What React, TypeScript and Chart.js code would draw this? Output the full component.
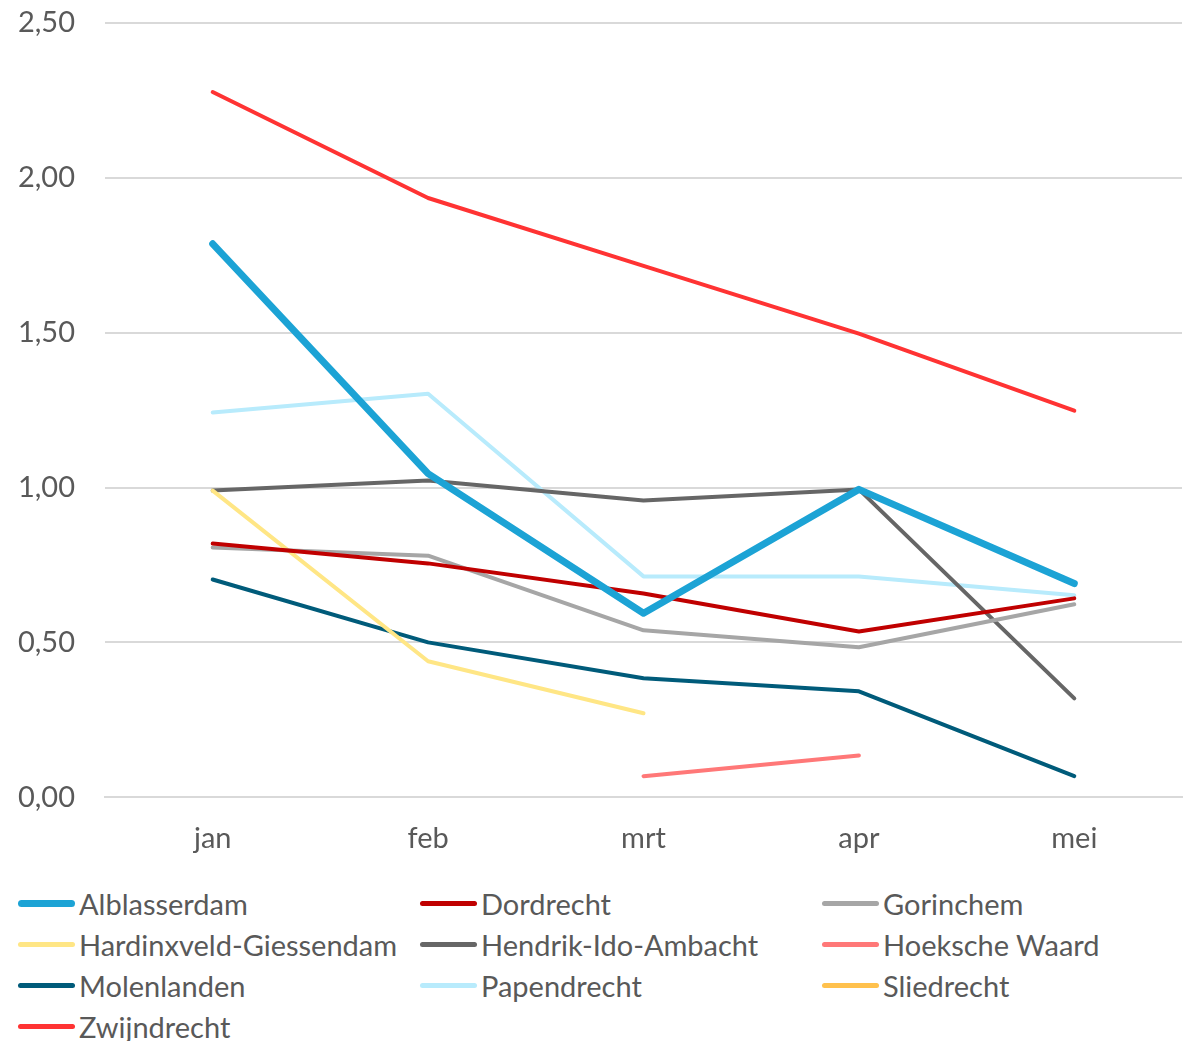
import React, { useEffect, useRef } from "react";
import { Chart, registerables } from "chart.js";

Chart.register(...registerables);

const months = ["jan", "feb", "mrt", "apr", "mei"];
const yTicks = [0, 0.5, 1, 1.5, 2, 2.5];

const alblasserdam = [1.787, 1.045, 0.594, 0.994, 0.69];
const dordrecht = [0.819, 0.755, 0.658, 0.535, 0.642];
const gorinchem = [0.806, 0.78, 0.539, 0.484, 0.623];
const hardinxveld = [0.99, 0.439, 0.271, null, null];
const hendrik = [0.99, 1.023, 0.958, 0.994, 0.319];
const hoeksche = [null, null, 0.068, 0.135, null];
const molenlanden = [0.703, 0.5, 0.384, 0.342, 0.068];
const papendrecht = [1.242, 1.303, 0.713, 0.713, 0.652];
const sliedrecht = [null, null, null, null, null];
const zwijndrecht = [2.277, 1.935, 1.716, 1.497, 1.248];

const seriesNames = [
  "Alblasserdam",
  "Dordrecht",
  "Gorinchem",
  "Hardinxveld-Giessendam",
  "Hendrik-Ido-Ambacht",
  "Hoeksche Waard",
  "Molenlanden",
  "Papendrecht",
  "Sliedrecht",
  "Zwijndrecht",
];
const seriesValues = [
  alblasserdam,
  dordrecht,
  gorinchem,
  hardinxveld,
  hendrik,
  hoeksche,
  molenlanden,
  papendrecht,
  sliedrecht,
  zwijndrecht,
];
const seriesColors = [
  "#1CA3D5",
  "#C00000",
  "#A6A6A6",
  "#FFE685",
  "#666666",
  "#FF7878",
  "#005B7A",
  "#B8EBFC",
  "#FFC14D",
  "#FF3333",
];
const seriesWidths = [7, 4, 4, 4, 4, 4, 4, 4, 4, 4];

const FONT = "Lato, 'Open Sans', sans-serif";
const TEXT = "#595959";

export default function App() {
  const ref = useRef<HTMLCanvasElement>(null);
  useEffect(() => {
    document.body.style.margin = "0";
    const ctx = ref.current!;
    const chart = new Chart(ctx, {
      type: "line",
      data: {
        labels: months,
        datasets: seriesNames.map((n, i) => ({
          label: n,
          data: seriesValues[i] as any,
          borderColor: seriesColors[i],
          backgroundColor: seriesColors[i],
          borderWidth: seriesWidths[i],
          pointRadius: 0,
          borderCapStyle: "round" as const,
          borderJoinStyle: "round" as const,
          tension: 0,
          spanGaps: false,
        })),
      },
      options: {
        animation: false,
        responsive: false,
        devicePixelRatio: 1,
        layout: { padding: { left: 18, right: 2, top: 23, bottom: -10 } },
        plugins: { legend: { display: false }, tooltip: { enabled: false } },
        scales: {
          x: {
            offset: true,
            grid: { display: false, drawTicks: false },
            border: { display: true, color: "#D9D9D9", width: 2 },
            ticks: { color: TEXT, font: { family: FONT, size: 29 }, padding: 24 },
          },
          y: {
            min: 0,
            max: 2.5,
            afterBuildTicks: (axis: any) => {
              axis.ticks = yTicks.map((v) => ({ value: v }));
            },
            afterFit: (axis: any) => {
              axis.width = 87;
              axis.paddingTop = 0;
              axis.paddingBottom = 0;
            },
            grid: { color: "#D9D9D9", lineWidth: 2, drawTicks: false },
            border: { display: false },
            ticks: {
              color: TEXT,
              font: { family: FONT, size: 29 },
              padding: 30,
              callback: (v: any) => Number(v).toFixed(2).replace(".", ","),
            },
          },
        },
      },
    });
    return () => chart.destroy();
  }, []);

  return (
    <div style={{ width: 1184, height: 1041, background: "#fff", position: "relative", overflow: "hidden" }}>
      <canvas ref={ref} width={1184} height={870} style={{ display: "block" }} />
      <div
        style={{
          position: "absolute",
          left: 18,
          top: 883,
          display: "grid",
          gridTemplateColumns: "402px 402px 380px",
          fontFamily: FONT,
          fontSize: 29,
          color: TEXT,
        }}
      >
        {seriesNames.map((n, i) => (
          <div key={n} style={{ display: "flex", alignItems: "center", height: 41, whiteSpace: "nowrap" }}>
            <span
              style={{
                display: "inline-block",
                width: 57,
                height: seriesWidths[i] === 7 ? 7 : 5,
                borderRadius: 4,
                background: seriesColors[i],
                marginRight: 4,
              }}
            />
            <span>{n}</span>
          </div>
        ))}
      </div>
    </div>
  );
}
